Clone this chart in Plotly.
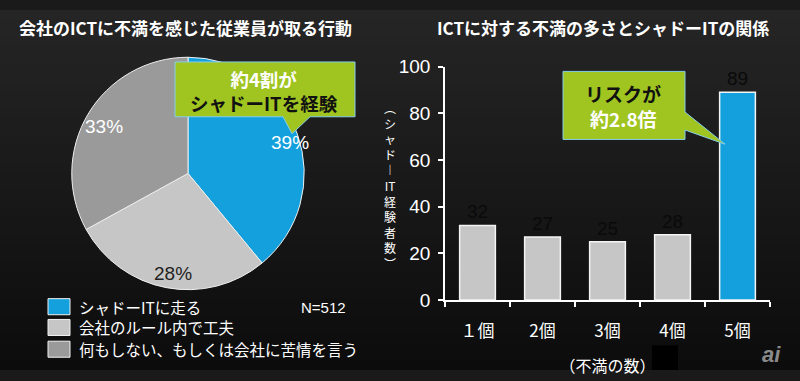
import plotly.graph_objects as go

# ---------------- data ----------------
pie_labels = ["シャドーITに走る", "会社のルール内で工夫", "何もしない、もしくは会社に苦情を言う"]
pie_values = [39, 28, 33]
pie_text = ["39%", "28%", "33%"]

bar_categories = ["１個", "2個", "3個", "4個", "5個"]
bar_values = [32, 27, 25, 28, 89]

left_title = "会社のICTに不満を感じた従業員が取る行動"
right_title = "ICTに対する不満の多さとシャドーITの関係"
y_title_chars = ["︵", "シ", "ャ", "ド", "︱", "IT", "経", "験", "者", "数", "︶"]
x_title = "（不満の数）"
sample_note = "N=512"

# ---------------- styles ----------------
W, H = 800, 381
BLUE = "#13a0dc"
LGRAY = "#c6c6c6"
DGRAY = "#9a9a9a"
GREEN = "#a0c420"
JP = "Noto Sans CJK JP, Liberation Sans, sans-serif"
LAT = "Liberation Sans, Arial, sans-serif"


def px(x):
    return x / W


def py(y):
    return 1 - y / H


fig = go.Figure()

# Pie
fig.add_trace(go.Pie(
    labels=pie_labels, values=pie_values, sort=False, direction="clockwise",
    rotation=0, textinfo="none", hoverinfo="label+percent",
    marker=dict(colors=[BLUE, LGRAY, DGRAY], line=dict(color="#f0f0f0", width=1)),
    domain=dict(x=[px(188 - 123), px(188 + 123)], y=[py(173 + 123), py(173 - 123)]),
    showlegend=False,
))

# Bars
fig.add_trace(go.Bar(
    x=bar_categories, y=bar_values,
    marker=dict(color=[LGRAY, LGRAY, LGRAY, LGRAY, BLUE], line=dict(color="#f4f4f4", width=1.5)),
    width=0.55, text=[str(v) for v in bar_values], textposition="outside",
    textfont=dict(family=LAT, size=19, color="#0a0a0a"), cliponaxis=False,
    showlegend=False,
))

shapes = []
# background gradient bands
n = 40
for i in range(n):
    t = i / (n - 1)
    c0, c1 = 0x25, 0x0c
    v = int(round(c0 + (c1 - c0) * t))
    col = "#%02x%02x%02x" % (v, v, v)
    shapes.append(dict(type="rect", xref="paper", yref="paper", x0=0, x1=1,
                       y0=1 - (i + 1) / n, y1=1 - i / n, fillcolor=col,
                       line=dict(width=0), layer="below"))

# callout 1
path1 = "M {a},{b} L {c},{b} L {c},{d} L {e},{d} L {f},{g} L {h},{d} L {a},{d} Z".format(
    a=px(175), b=py(55), c=px(355), d=py(113), e=px(310), f=px(292), g=py(131), h=px(283))
shapes.append(dict(type="path", xref="paper", yref="paper", path=path1,
                   fillcolor=GREEN, line=dict(color="#86cdea", width=1)))
# callout 2
path2 = "M {a},{b} L {c},{b} L {c},{d} L {e},{f} L {c},{g} L {c},{h} L {a},{h} Z".format(
    a=px(563), b=py(65), c=px(685), d=py(108), e=px(725), f=py(142), g=py(127), h=py(137))
shapes.append(dict(type="path", xref="paper", yref="paper", path=path2,
                   fillcolor=GREEN, line=dict(color="#86cdea", width=1)))

# legend squares
leg_cols = [BLUE, LGRAY, DGRAY]
leg_y = [314, 336, 359]
for c, yy in zip(leg_cols, leg_y):
    shapes.append(dict(type="rect", xref="paper", yref="paper", x0=px(48), x1=px(70),
                       y0=py(yy + 8.5), y1=py(yy - 8.5), fillcolor=c,
                       line=dict(color="#f0f0f0", width=1)))

# black box after x title
shapes.append(dict(type="rect", xref="paper", yref="paper", x0=px(652), x1=px(678),
                   y0=py(381), y1=py(355), fillcolor="#000000", line=dict(width=0)))

ann = []


def text(x, y, s, size, color="white", family=JP, xanchor="center", bold=False, **kw):
    ann.append(dict(x=px(x), y=py(y), xref="paper", yref="paper", text=("<b>%s</b>" % s) if bold else s,
                    showarrow=False, xanchor=xanchor, yanchor="middle",
                    font=dict(family=family, size=size, color=color), **kw))


text(17, 18, left_title, 17, xanchor="left", bold=True)
text(603, 18, right_title, 17, bold=True)

# pie percentages
text(290, 140, pie_text[0], 19, family=LAT)
text(173, 279, pie_text[1], 19, color="#222222", family=LAT)
text(104, 123, pie_text[2], 19, family=LAT)

# callout texts
text(264, 86, "<span style='color:white'>約4割が</span><br><span style='color:#111111'>シャドーITを経験</span>",
     18.5, bold=True)
text(623, 88, "リスクが", 19, color="#111111", bold=True)
text(623, 115, "約2.8倍", 19, bold=True)

# legend texts
for lab, yy in zip(pie_labels, leg_y):
    text(77, yy, lab, 15.5, xanchor="left")
text(348, 315, sample_note, 15, family=LAT, xanchor="right")

# vertical y-axis title (upright characters, one per row)
text(390, 186, "<br>".join(y_title_chars), 12)

# watermark
text(771, 365, "<i>ai</i>", 22, color="#8a8a8a", family=LAT, bold=True)

fig.update_layout(
    width=W, height=H, margin=dict(l=0, r=0, t=0, b=0),
    paper_bgcolor="#1a1a1a", plot_bgcolor="rgba(0,0,0,0)",
    shapes=shapes, annotations=ann, bargap=0.45,
    xaxis=dict(domain=[px(445), px(770)], showgrid=False, zeroline=False,
               showline=True, linecolor="white", linewidth=1.5,
               ticks="outside", tickson="boundaries", ticklen=5, tickcolor="white", tickwidth=1.5,
               tickfont=dict(family=JP, size=17, color="white"), ticklabelstandoff=15,
               title=dict(text=x_title, font=dict(family=JP, size=16, color="white"), standoff=20)),
    yaxis=dict(domain=[py(307), py(60)], range=[0, 100], showgrid=False, zeroline=False,
               showline=True, linecolor="white", linewidth=1.5,
               ticks="outside", ticklen=5, tickcolor="white", tickwidth=1.5,
               tickvals=[0, 20, 40, 60, 80, 100],
               tickfont=dict(family=LAT, size=19, color="white"), ticklabelstandoff=4),
)

fig.write_html("out.html", config={"displayModeBar": False},
               post_script="document.body.style.margin='0';document.body.style.overflow='hidden';")
